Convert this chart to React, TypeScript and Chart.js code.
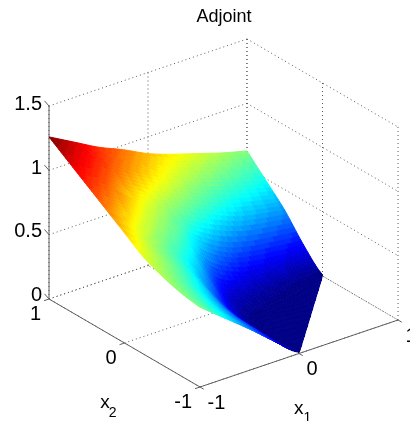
import React, { useEffect, useRef } from "react";
import { Chart, registerables } from "chart.js";

Chart.register(...registerables);

const titleText = "Adjoint";
const x1Grid = [-1, -0.75, -0.5, -0.25, 0, 0.25, 0.5, 0.75, 1];
const x2Grid = [1, 0.75, 0.5, 0.25, 0, -0.25, -0.5, -0.75, -1];
const zRow1 = [1.26, 1.155, 1.05, 0.965, 0.87, 0.8, 0.74, 0.68, 0.63];
const zRow2 = [1.158, 1.075, 0.97, 0.86, 0.76, 0.67, 0.6, 0.54, 0.486];
const zRow3 = [1.057, 0.96, 0.81, 0.69, 0.59, 0.5, 0.42, 0.375, 0.34];
const zRow4 = [0.956, 0.81, 0.68, 0.56, 0.37, 0.25, 0.2, 0.175, 0.155];
const zRow5 = [0.855, 0.7, 0.56, 0.4, 0.14, 0.07, 0.04, 0.02, 0.01];
const zRow6 = [0.754, 0.63, 0.48, 0.24, 0.04, 0.01, 0.01, 0, null];
const zRow7 = [0.69, 0.56, 0.39, 0.18, 0.01, 0, 0, null, null];
const zRow8 = [0.645, 0.51, 0.34, 0.17, 0, 0, null, null, null];
const zRow9 = [0.62, 0.47, 0.32, 0.16, 0.01, null, null, null, null];
const zTable: (number | null)[][] = [zRow1, zRow2, zRow3, zRow4, zRow5, zRow6, zRow7, zRow8, zRow9];
const zTicks = [0, 0.5, 1, 1.5];
const zTickLabels = ["0", "0.5", "1", "1.5"];
const xTicks = [-1, 0, 1];
const xTickLabels = ["-1", "0", "1"];
const colorMax = 1.26;
const colorLevels = 64;
const subdivisions = 8;

// view transform of the 3-D axes box onto the 2-D linear scales
const project = (x1: number, x2: number, z: number) => {
  const u = (x1 + 1) / 2;
  const v = (x2 + 1) / 2;
  return { x: 200 + 198 * u - 151 * v, y: 387 - 67 * u - 88 * v - (z / 1.5) * 193 };
};

const jet = (t: number) => {
  const ch = (c: number) => Math.round(255 * Math.max(0, Math.min(1, 1.5 - Math.abs(4 * t - c))));
  return `rgb(${ch(3)},${ch(2)},${ch(1)})`;
};

const facetColor = (z: number) => {
  const idx = Math.max(0, Math.min(colorLevels - 1, Math.floor((z / colorMax) * colorLevels)));
  return jet((idx + 0.5) / colorLevels);
};

type P = { a: number; b: number };

const clip = (poly: P[]) => {
  const inside = (p: P) => p.b - p.a + 1 >= -1e-9;
  const out: P[] = [];
  poly.forEach((p, i) => {
    const q = poly[(i + 1) % poly.length];
    const pi = inside(p);
    const qi = inside(q);
    if (pi) out.push(p);
    if (pi !== qi) {
      const fp = p.b - p.a + 1;
      const fq = q.b - q.a + 1;
      const t = fp / (fp - fq);
      out.push({ a: p.a + (q.a - p.a) * t, b: p.b + (q.b - p.b) * t });
    }
  });
  return out;
};

// smooth rendering of the surface between the table's nodes
const cubic = (p0: number, p1: number, p2: number, p3: number, t: number) =>
  p1 + 0.5 * t * (p2 - p0 + t * (2 * p0 - 5 * p1 + 4 * p2 - p3 + t * (3 * (p1 - p2) + p3 - p0)));

const node = (r: number, c: number) => {
  const rr = Math.max(0, Math.min(x2Grid.length - 1, r));
  const cc = Math.max(0, Math.min(x1Grid.length - 1, c));
  const base = zTable[rr][cc] ?? 0;
  const extraR = r - rr;
  const extraC = c - cc;
  if (extraR === 0 && extraC === 0) return base;
  const inR = Math.max(0, Math.min(x2Grid.length - 1, rr - extraR));
  const inC = Math.max(0, Math.min(x1Grid.length - 1, cc - extraC));
  return 2 * base - (zTable[inR][inC] ?? 0);
};

const zAt = (x1: number, x2: number) => {
  const fc = Math.min(x1Grid.length - 1.000001, (x1 + 1) / 0.25);
  const fr = Math.min(x2Grid.length - 1.000001, (1 - x2) / 0.25);
  const c = Math.floor(fc);
  const r = Math.floor(fr);
  const s = fc - c;
  const t = fr - r;
  const rows = [r - 1, r, r + 1, r + 2].map((rr) =>
    cubic(node(rr, c - 1), node(rr, c), node(rr, c + 1), node(rr, c + 2), s),
  );
  return Math.max(0, cubic(rows[0], rows[1], rows[2], rows[3], t));
};

const surfaceDatasets = () => {
  const facets: { key: number; data: { x: number; y: number }[]; color: string }[] = [];
  for (let r = 0; r < x2Grid.length - 1; r++) {
    for (let c = 0; c < x1Grid.length - 1; c++) {
      if (zTable[r][c] == null || zTable[r][c + 1] == null || zTable[r + 1][c] == null) continue;
      for (let i = 0; i < subdivisions; i++) {
        for (let j = 0; j < subdivisions; j++) {
          const a0 = x1Grid[c] + ((x1Grid[c + 1] - x1Grid[c]) * i) / subdivisions;
          const a1 = x1Grid[c] + ((x1Grid[c + 1] - x1Grid[c]) * (i + 1)) / subdivisions;
          const b0 = x2Grid[r] + ((x2Grid[r + 1] - x2Grid[r]) * j) / subdivisions;
          const b1 = x2Grid[r] + ((x2Grid[r + 1] - x2Grid[r]) * (j + 1)) / subdivisions;
          const poly = clip([
            { a: a0, b: b0 },
            { a: a1, b: b0 },
            { a: a1, b: b1 },
            { a: a0, b: b1 },
          ]);
          if (poly.length < 3) continue;
          const zs = poly.map((p) => zAt(p.a, p.b));
          const mean = zs.reduce((m, z) => m + z, 0) / zs.length;
          const pts = poly.map((p, k) => project(p.a, p.b, zs[k]));
          pts.push(pts[0]);
          facets.push({ key: a0 + a1 + b0 + b1, data: pts, color: facetColor(mean) });
        }
      }
    }
  }
  facets.sort((p, q) => p.key - q.key);
  return facets.map((f) => ({
    data: f.data,
    borderColor: f.color,
    backgroundColor: f.color,
    borderWidth: 1,
    fill: "shape",
    pointRadius: 0,
    tension: 0,
    clip: false,
  }));
};

const segment = (from: number[], to: number[], dotted: boolean) => ({
  data: [project(from[0], from[1], from[2]), project(to[0], to[1], to[2])],
  borderColor: dotted ? "#5a5a5a" : "#606060",
  backgroundColor: "transparent",
  borderWidth: 1,
  borderDash: dotted ? [1, 3] : [],
  fill: false,
  pointRadius: 0,
  clip: false,
});

const boxDatasets = () => {
  const out: ReturnType<typeof segment>[] = [];
  const zTop = zTicks[zTicks.length - 1];
  zTicks.forEach((z) => {
    out.push(segment([-1, 1, z], [1, 1, z], true));
    out.push(segment([1, 1, z], [1, -1, z], true));
    out.push(segment([-1, 1, z], [-1, 1.06, z + 0.02], false));
  });
  xTicks.forEach((v) => {
    out.push(segment([v, -1, 0], [v, 1, 0], true));
    out.push(segment([-1, v, 0], [1, v, 0], true));
    out.push(segment([v, 1, 0], [v, 1, zTop], true));
    out.push(segment([1, v, 0], [1, v, zTop], true));
    out.push(segment([v, -1, 0], [v, -1.05, 0], false));
    out.push(segment([-1, v, 0], [-1.05, v, 0], false));
  });
  out.push(segment([-1, 1, 0], [-1, 1, zTop], false));
  out.push(segment([-1, 1, 0], [-1, -1, 0], false));
  out.push(segment([-1, -1, 0], [1, -1, 0], false));
  return out;
};

const textPlugin = {
  id: "boxText",
  afterDatasetsDraw(chart: Chart) {
    const sx = chart.scales.x;
    const sy = chart.scales.y;
    const ctx = chart.ctx;
    const put = (txt: string, x1: number, x2: number, z: number, dx: number, dy: number, align: CanvasTextAlign) => {
      const p = project(x1, x2, z);
      ctx.textAlign = align;
      ctx.fillText(txt, sx.getPixelForValue(p.x) + dx, sy.getPixelForValue(p.y) + dy);
    };
    ctx.save();
    ctx.fillStyle = "#000";
    ctx.textBaseline = "alphabetic";
    ctx.font = '20px "Liberation Sans"';
    zTicks.forEach((z, i) => put(zTickLabels[i], -1, 1, z, -7, 2 + z * 1.33, "right"));
    xTicks.forEach((v, i) => {
      put(xTickLabels[i], -1, v, 0, -8, 21, "right");
      put(xTickLabels[i], v, -1, 0, 7.5, 21.5, "left");
    });
    ctx.font = '19px "Liberation Sans"';
    put("x", -1, -0.5, 0, -62, 43, "left");
    put("x", 0, -1, 0, -5, 60, "left");
    ctx.font = '14px "Liberation Sans"';
    put("2", -1, -0.5, 0, -53.5, 52, "left");
    put("1", 0, -1, 0, 4.5, 68, "left");
    ctx.restore();
  },
};

export default function App() {
  const ref = useRef<HTMLCanvasElement>(null);
  useEffect(() => {
    document.body.style.margin = "0";
    const chart = new Chart(ref.current as HTMLCanvasElement, {
      type: "line",
      data: { datasets: [...surfaceDatasets(), ...boxDatasets()] as any },
      options: {
        animation: false,
        responsive: false,
        events: [],
        layout: { padding: { left: 38, right: 0, top: 0, bottom: 0 } },
        plugins: {
          legend: { display: false },
          tooltip: { enabled: false },
          title: {
            display: true,
            text: titleText,
            fullSize: false,
            color: "#000",
            font: { family: '"Liberation Sans"', size: 18, weight: "normal" },
            padding: { top: 6, bottom: 2.4 },
          },
        },
        scales: {
          x: { type: "linear", min: 38, max: 410, display: false },
          y: { type: "linear", min: 30, max: 421, reverse: true, display: false },
        },
      },
      plugins: [textPlugin],
    } as any);
    return () => chart.destroy();
  }, []);
  return (
    <div style={{ position: "absolute", left: 0, top: 0, width: 410, height: 421, background: "#fff" }}>
      <canvas ref={ref} width={410} height={421} style={{ display: "block" }} />
    </div>
  );
}
